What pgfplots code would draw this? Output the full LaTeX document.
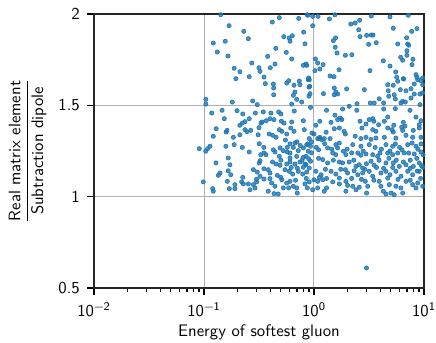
\documentclass[border=0pt]{standalone}
\usepackage{amsmath}
\usepackage{pgfplots}
\usepackage{pgfplotstable}
\pgfplotsset{compat=1.18}
\definecolor{mplblue}{HTML}{1F77B4}
\pgfplotstableread{
x y
0.142 1.996
0.169 1.936
0.418 1.956
0.484 1.980
0.726 1.976
0.869 1.996
0.230 1.905
0.253 1.865
0.1215 1.841
0.156 1.851
0.132 1.792
0.165 1.770
0.531 1.876
0.596 1.869
0.605 1.851
0.635 1.881
0.805 1.901
0.828 1.837
0.449 1.812
0.560 1.790
0.627 1.754
0.379 1.768
0.272 1.732
0.188 1.703
0.212 1.684
0.316 1.706
0.323 1.686
0.401 1.706
0.442 1.726
0.800 1.719
0.859 1.719
0.195 1.646
0.258 1.657
0.351 1.655
0.877 1.993
0.973 1.987
1.087 1.987
1.55 1.996
3.32 1.989
4.91 1.984
7.20 1.993
1.38 1.973
0.973 1.936
2.16 1.945
2.37 1.951
2.60 1.966
2.55 1.914
2.62 1.876
3.01 1.883
3.32 1.885
3.44 1.885
5.26 1.922
7.73 1.905
8.63 1.920
1.50 1.854
1.57 1.869
1.56 1.818
1.62 1.787
1.93 1.774
2.21 1.777
3.14 1.834
3.68 1.843
5.77 1.836
6.96 1.870
7.11 1.836
7.26 1.829
7.00 1.799
7.00 1.774
6.14 1.763
6.40 1.747
7.94 1.752
4.27 1.744
7.78 1.723
4.91 1.715
5.53 1.683
5.65 1.654
6.49 1.646
8.46 1.668
8.63 1.654
9.73 1.650
3.23 1.690
1.69 1.695
1.40 1.661
1.52 1.657
1.02 1.690
1.13 1.699
1.21 1.723
1.08 1.732
1.03 1.754
0.846 1.726
0.895 1.650
0.104 1.533
0.104 1.507
0.181 1.518
0.277 1.524
0.305 1.504
0.361 1.619
0.427 1.617
0.430 1.595
0.565 1.622
0.589 1.635
0.658 1.610
0.735 1.633
0.745 1.613
0.887 1.640
0.671 1.573
0.649 1.555
0.901 1.600
0.901 1.550
0.430 1.558
0.696 1.533
0.627 1.507
0.773 1.518
0.1175 1.458
0.146 1.473
0.200 1.471
0.225 1.453
0.153 1.427
0.258 1.427
0.293 1.458
0.346 1.464
0.406 1.458
0.477 1.464
0.501 1.453
0.662 1.469
0.398 1.427
0.433 1.422
0.368 1.416
0.330 1.403
0.338 1.409
0.236 1.411
0.223 1.403
0.212 1.391
0.505 1.413
0.534 1.403
0.627 1.409
0.800 1.416
0.129 1.372
0.162 1.363
0.159 1.354
0.236 1.367
0.246 1.356
0.266 1.363
0.316 1.378
0.311 1.339
0.392 1.343
0.421 1.336
0.452 1.325
0.484 1.367
0.510 1.358
0.565 1.343
0.614 1.376
0.658 1.358
0.816 1.367
0.212 1.339
0.1215 1.331
0.185 1.325
0.906 1.640
0.915 1.604
0.920 1.564
1.53 1.595
1.58 1.573
1.64 1.562
1.53 1.558
1.22 1.564
1.98 1.590
2.87 1.586
4.68 1.613
5.26 1.610
5.77 1.632
6.53 1.644
8.16 1.617
8.77 1.640
9.39 1.635
9.73 1.613
4.73 1.580
5.37 1.558
5.49 1.535
4.78 1.550
6.09 1.586
6.86 1.580
7.62 1.591
8.16 1.562
9.20 1.562
9.73 1.568
7.62 1.540
6.40 1.522
6.77 1.518
6.17 1.513
3.92 1.536
3.25 1.513
3.53 1.513
4.30 1.513
2.46 1.509
2.09 1.495
1.82 1.480
2.45 1.473
4.30 1.480
5.49 1.482
7.46 1.473
9.20 1.504
0.930 1.489
1.30 1.473
1.55 1.446
1.73 1.431
1.64 1.422
1.79 1.422
1.13 1.413
1.43 1.407
2.62 1.413
3.18 1.422
3.42 1.427
3.50 1.413
4.36 1.413
4.68 1.436
3.87 1.394
2.97 1.398
5.31 1.391
6.49 1.407
8.46 1.436
9.39 1.416
9.06 1.394
1.04 1.391
1.70 1.376
1.53 1.372
1.88 1.358
1.93 1.343
1.29 1.353
2.73 1.376
3.42 1.367
3.66 1.358
4.68 1.376
5.12 1.367
5.26 1.354
6.27 1.380
6.71 1.386
6.40 1.363
8.00 1.363
9.06 1.376
0.959 1.349
1.00 1.343
1.13 1.325
1.18 1.312
1.08 1.318
1.40 1.318
2.37 1.331
2.67 1.318
2.97 1.325
3.30 1.314
3.66 1.321
4.36 1.325
5.56 1.321
6.86 1.336
7.89 1.325
9.39 1.325
0.0906 1.263
0.1036 1.249
0.108 1.263
0.1135 1.276
0.158 1.276
0.188 1.285
0.223 1.270
0.258 1.245
0.318 1.290
0.328 1.230
0.351 1.239
0.366 1.230
0.442 1.245
0.484 1.221
0.427 1.257
0.491 1.267
0.526 1.252
0.572 1.270
0.605 1.289
0.671 1.294
0.649 1.270
0.720 1.252
0.800 1.267
0.859 1.285
0.887 1.249
0.572 1.245
0.605 1.239
0.605 1.212
0.696 1.221
0.800 1.215
0.1285 1.185
0.166 1.212
0.172 1.175
0.323 1.197
0.318 1.185
0.452 1.179
0.491 1.172
0.565 1.179
0.605 1.190
0.671 1.179
0.746 1.190
0.828 1.179
0.705 1.157
0.800 1.161
0.140 1.130
0.135 1.117
0.166 1.142
0.175 1.120
0.281 1.148
0.305 1.135
0.351 1.153
0.384 1.148
0.398 1.130
0.464 1.117
0.498 1.106
0.545 1.148
0.596 1.139
0.640 1.124
0.720 1.139
0.789 1.124
0.859 1.135
0.225 1.106
0.323 1.112
0.398 1.099
0.906 1.318
1.12 1.318
1.24 1.318
0.877 1.289
0.930 1.276
0.846 1.221
0.895 1.208
0.930 1.194
0.846 1.175
0.906 1.157
1.10 1.257
1.33 1.267
1.58 1.285
1.70 1.294
1.64 1.267
1.48 1.239
1.58 1.230
1.85 1.249
1.95 1.230
2.25 1.285
2.67 1.276
3.18 1.285
2.50 1.239
2.67 1.227
2.97 1.234
3.42 1.230
3.79 1.221
3.98 1.239
4.51 1.285
5.19 1.276
5.49 1.289
4.68 1.239
5.19 1.230
5.77 1.239
6.31 1.257
7.11 1.285
7.78 1.294
8.46 1.276
9.39 1.289
7.26 1.239
8.16 1.234
9.39 1.245
1.20 1.203
1.33 1.185
1.82 1.185
2.09 1.190
2.58 1.175
2.41 1.166
2.77 1.157
3.30 1.194
3.53 1.172
4.51 1.185
5.26 1.185
5.96 1.166
6.86 1.175
8.00 1.166
9.06 1.185
9.73 1.161
1.04 1.139
1.16 1.120
1.12 1.106
1.43 1.139
1.58 1.124
1.93 1.148
2.02 1.130
2.32 1.142
2.50 1.120
2.77 1.130
3.18 1.139
3.42 1.112
4.06 1.130
4.51 1.139
4.91 1.120
5.56 1.139
6.18 1.112
7.11 1.139
7.89 1.120
9.06 1.139
1.70 1.102
4.68 1.102
0.0985 1.081
0.120 1.044
0.1215 1.030
0.163 1.084
0.170 1.044
0.191 1.066
0.191 1.044
0.220 1.081
0.228 1.070
0.253 1.070
0.281 1.066
0.301 1.081
0.262 1.038
0.291 1.048
0.351 1.097
0.412 1.075
0.510 1.093
0.565 1.075
0.605 1.084
0.649 1.057
0.696 1.048
0.442 1.057
0.384 1.030
0.433 1.017
0.473 1.015
0.526 1.048
0.588 1.048
0.705 1.020
0.828 1.070
0.870 1.048
0.906 1.081
1.00 1.093
1.08 1.084
1.20 1.093
0.973 1.038
1.08 1.048
1.24 1.030
1.30 1.048
1.48 1.081
1.70 1.070
1.95 1.084
2.02 1.062
1.95 1.030
2.25 1.057
2.41 1.038
2.58 1.052
2.93 1.084
3.08 1.057
3.01 1.020
3.92 1.084
4.06 1.057
4.27 1.030
4.51 1.015
5.01 1.020
5.37 1.011
5.56 1.057
6.17 1.048
6.40 1.020
6.86 1.084
7.89 1.066
8.77 1.075
9.73 1.057
8.46 1.048
4.84 1.066
0.95 1.300
1.05 1.270
1.25 1.290
1.45 1.260
2.00 1.260
2.20 1.240
2.80 1.250
3.60 1.270
4.10 1.260
4.90 1.250
6.00 1.270
6.60 1.240
8.80 1.260
9.80 1.230
1.10 1.210
1.50 1.200
1.70 1.190
2.30 1.200
3.00 1.180
3.90 1.200
4.80 1.210
5.60 1.200
6.50 1.190
7.50 1.200
8.60 1.210
9.50 1.170
1.27 1.150
1.75 1.150
2.90 1.150
3.70 1.160
4.30 1.155
5.20 1.160
7.50 1.155
8.70 1.140
1.30 1.100
2.20 1.100
2.70 1.095
3.50 1.090
5.80 1.095
7.50 1.090
9.30 1.100
0.55 1.310
0.70 1.300
0.75 1.280
0.95 1.240
0.50 1.200
0.78 1.200
0.35 1.270
0.42 1.190
0.62 1.160
0.85 1.100
0.68 1.090
0.30 1.095
3.00 0.610
}\pts
\begin{document}
\begin{tikzpicture}
\path[use as bounding box] (-56.3pt,-32.9pt) rectangle (204.8pt,172.5pt);
\begin{axis}[
  at={(0pt,0pt)}, anchor=south west,
  scale only axis,
  width=197.6pt, height=164.1pt,
  xmode=log,
  xmin=0.01, xmax=10,
  ymin=0.5, ymax=2,
  xtick={0.01,0.1,1,10},
  xticklabels={10\textsuperscript{\textminus2},10\textsuperscript{\textminus1},10\textsuperscript{0},10\textsuperscript{1}},
  ytick={0.5,1,1.5,2},
  yticklabels={0.5,1,1.5,2},
  grid=major,
  major grid style={draw=black!31, line width=0.6pt},
  axis line style={line width=0.8pt, black!85},
  tick align=outside,
  xtick pos=bottom, ytick pos=left,
  major tick length=4pt, minor tick length=2.4pt,
  every tick/.style={black, line width=0.7pt},
  tick label style={font=\sffamily},
  xticklabel style={yshift=-1pt},
  yticklabel style={xshift=-1pt},
  xlabel={\sffamily Energy of softest gluon},
  every axis x label/.style={at={(axis description cs:0.5,0)}, anchor=center, yshift=-26.5pt},
  ylabel={\sffamily$\dfrac{\mbox{\sffamily Real matrix element}}{\mbox{\sffamily Subtraction dipole}}$},
  every axis y label/.style={at={(axis description cs:0,0.5)}, xshift=-39.8pt, anchor=center, rotate=90},
  clip=true,
]
\addplot[only marks, mark=*, mark size=1.25pt, color=mplblue, mark options={draw=none, fill=mplblue, fill opacity=0.8}] table[x=x, y=y] {\pts};
\end{axis}
\end{tikzpicture}
\end{document}
